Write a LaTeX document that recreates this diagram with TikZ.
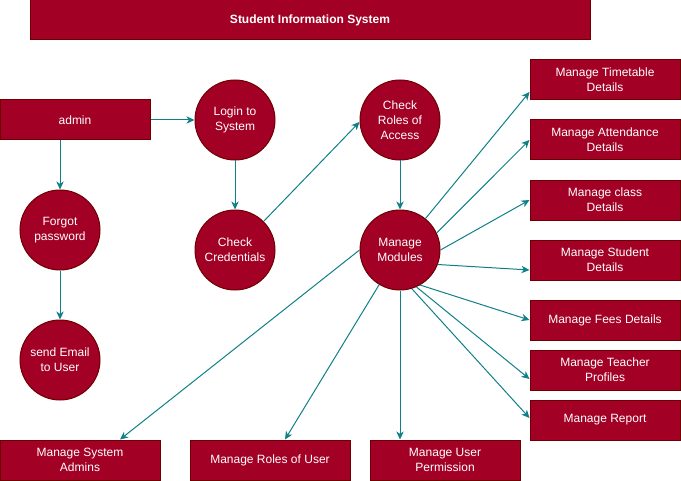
\documentclass[tikz,border=0pt]{standalone}
\usepackage{fontspec}
\setmainfont{Liberation Sans}
\usetikzlibrary{arrows.meta,calc}
\definecolor{boxfill}{HTML}{A20025}
\definecolor{boxline}{HTML}{6F0000}
\definecolor{teal}{HTML}{0E8088}
\tikzset{
  base/.style={fill=boxfill,draw=boxline,line width=0.75pt,text=white,align=center,inner sep=0pt,
    font=\fontsize{9}{11.25}\selectfont},
  rbox/.style={base,rectangle,minimum width=112.5pt,minimum height=30pt},
  wbox/.style={base,rectangle,minimum width=120pt,minimum height=30pt},
  proc/.style={base,circle,minimum size=60pt},
  flow/.style={draw=teal,line width=0.75pt,-{Stealth[length=6pt,width=5.5pt,inset=1.8pt]}},
}
\begin{document}
\begin{tikzpicture}[x=0.75pt,y=-0.75pt]
\useasboundingbox (0,0) rectangle (681,481);
\node[base,rectangle,minimum width=420pt,minimum height=30pt,font=\bfseries\fontsize{9}{11.25}\selectfont] (title) at (310,20) {Student Information System};
\node[rbox] (admin) at (75,120) {admin};
\node[proc] (login) at (235,120) {Login to\\System};
\node[proc] (cc) at (235,250) {Check\\Credentials};
\node[proc] (forgot) at (60,230) {Forgot\\password};
\node[proc] (email) at (60,360) {send Email\\to User};
\node[proc] (roles) at (400,120) {Check\\Roles of\\Access};
\node[proc] (mm) at (400,250) {Manage\\Modules};
\node[rbox] (tt) at (605,80) {Manage Timetable\\Details};
\node[rbox] (att) at (605,140) {Manage Attendance\\Details};
\node[rbox] (cls) at (605,200) {Manage class\\Details};
\node[rbox] (stu) at (605,260) {Manage Student\\Details};
\node[rbox] (fees) at (605,320) {Manage Fees Details};
\node[rbox] (teach) at (605,370) {Manage Teacher\\Profiles};
\node[rbox] (rep) at (605,420) {Manage Report};
\node[wbox] (sysad) at (80,460) {Manage System\\Admins};
\node[wbox] (rolesu) at (270,460) {Manage Roles of User};
\node[rbox] (perm) at (445,460) {Manage User\\Permission};

\draw[flow] (admin.east) -- (login.west);
\draw[flow] ($(admin.south)+(-15,0)$) -- (forgot.north);
\draw[flow] (forgot.south) -- (email.north);
\draw[flow] (login.south) -- (cc.north);
\draw[flow] (cc.45) -- ($(roles.west)+(0,2)$);
\draw[flow] (roles.south) -- (mm.north);
\draw[flow] (mm.51) -- ($(tt.west)+(0,12)$);
\draw[flow] (mm.25) -- (att.west);
\draw[flow] (mm.east) -- (cls.west);
\draw[flow] (mm.-21) -- ($(stu.west)+(0,10)$);
\draw[flow] (mm.-60) -- (fees.west);
\draw[flow] (mm.-66) -- ($(teach.west)+(0,9)$);
\draw[flow] (mm.-73) -- ($(rep.west)+(0,-2)$);
\draw[flow] (mm.west) -- ($(sysad.north)+(40,0)$);
\draw[flow] (mm.-121) -- ($(rolesu.north)+(15,0)$);
\draw[flow] (mm.south) -- ($(perm.north)+(-45,0)$);
\end{tikzpicture}
\end{document}
